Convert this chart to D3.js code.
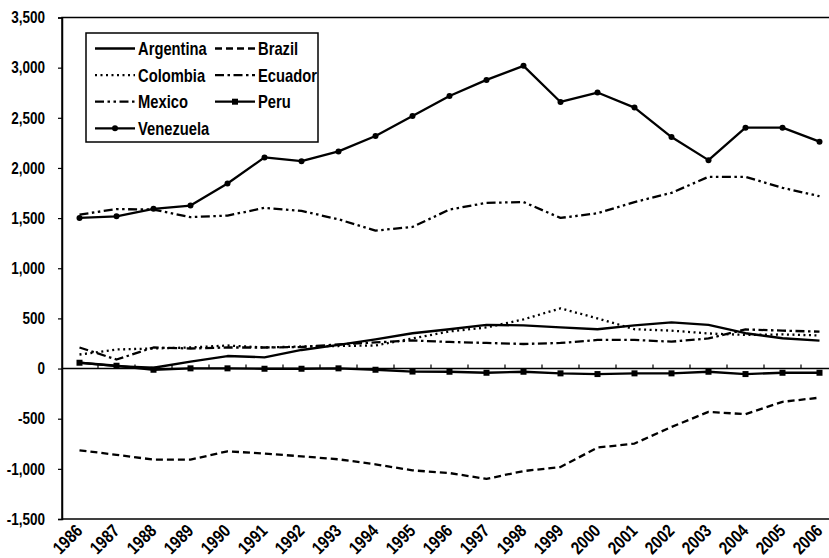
<!DOCTYPE html>
<html>
<head>
<meta charset="utf-8">
<script src="https://cdn.jsdelivr.net/npm/d3@7"></script>
<style>
  html, body { margin: 0; padding: 0; background: #fff; }
  svg { display: block; }
  text { font-family: "Liberation Sans", Arial, sans-serif; font-weight: bold; fill: #000; }
</style>
</head>
<body>
<svg id="chart" width="829" height="558"></svg>
<script>
const years = ["1986","1987","1988","1989","1990","1991","1992","1993","1994","1995","1996","1997","1998","1999","2000","2001","2002","2003","2004","2005","2006"];
const yTicks = [-1500,-1000,-500,0,500,1000,1500,2000,2500,3000,3500];

const argentina = [60,25,8,68,125,112,185,235,292,352,392,435,430,410,392,430,460,435,352,302,278];
const brazil    = [-815,-860,-908,-908,-825,-848,-875,-905,-955,-1015,-1042,-1100,-1022,-982,-788,-748,-582,-432,-455,-332,-290];
const colombia  = [140,190,200,210,230,210,220,225,230,300,370,410,490,600,500,392,378,350,335,340,330];
const ecuador   = [210,90,210,200,210,210,215,240,260,280,265,255,245,255,285,285,268,300,390,378,368];
const mexico    = [1535,1590,1585,1510,1525,1602,1572,1488,1375,1412,1585,1652,1660,1502,1548,1660,1752,1912,1912,1802,1718];
const peru      = [58,28,-12,2,2,-2,-2,2,-12,-30,-32,-42,-32,-48,-55,-48,-48,-32,-55,-42,-42];
const venezuela = [1502,1518,1592,1625,1845,2105,2068,2165,2318,2518,2718,2878,3018,2658,2752,2602,2308,2078,2402,2402,2262];

const series = [
  {name:"Argentina", values:argentina, dash:null, marker:null},
  {name:"Brazil",    values:brazil,    dash:"7,4", marker:null},
  {name:"Colombia",  values:colombia,  dash:"2,3.5", marker:null},
  {name:"Ecuador",   values:ecuador,   dash:"9,3.5,2.5,3.5", marker:null},
  {name:"Mexico",    values:mexico,    dash:"9,3.5,2.5,3.5,2.5,3.5", marker:null},
  {name:"Peru",      values:peru,      dash:null, marker:"square"},
  {name:"Venezuela", values:venezuela, dash:null, marker:"circle"}
];

const SX = 0.82; // horizontal condensing of the font
const svg = d3.select("#chart");
const pLeft = 62, pRight = 61 + 21*37, pTop = 17.5, pBottom = 519;

const x = d3.scaleBand().domain(years).range([61, pRight]).padding(0);
const y = d3.scaleLinear().domain([-1500, 3500]).range([pBottom, pTop]);
const cx = d => x(d) + x.bandwidth()/2;

// frame
svg.append("rect").attr("x", pLeft).attr("y", pTop).attr("width", pRight - pLeft).attr("height", pBottom - pTop)
  .attr("fill","none").attr("stroke","#000").attr("stroke-width",1.5);

// y axis
const yAxis = d3.axisLeft(y).tickValues(yTicks).tickSize(4).tickPadding(14).tickFormat(d3.format(","));
const ya = svg.append("g").attr("transform",`translate(${pLeft},0)`).call(yAxis);
ya.attr("font-family", null).attr("font-size", null);
ya.select(".domain").attr("stroke","#000").attr("stroke-width",1.5);
ya.selectAll(".tick line").attr("stroke","#000").attr("stroke-width",1.2);
ya.selectAll(".tick text").style("font-size","16.5px").attr("fill","#000")
  .attr("x", -17 / SX).attr("transform", `scale(${SX},1)`)
  .text(d => d3.format(",")(d).replace("\u2212","-"));

// zero line with ticks at category boundaries
const zeroG = svg.append("g").attr("transform",`translate(0,${y(0)})`);
zeroG.append("line").attr("x1",pLeft).attr("x2",pRight).attr("stroke","#000").attr("stroke-width",1.5);
zeroG.selectAll("line.tk").data(years.slice(1)).enter().append("line").attr("class","tk")
  .attr("x1", d => x(d)).attr("x2", d => x(d)).attr("y1",0).attr("y2",-4)
  .attr("stroke","#000").attr("stroke-width",1.2);

// x labels
svg.append("g").selectAll("text").data(years).enter().append("text")
  .attr("transform", d => `translate(${cx(d)+4},${pBottom+13}) rotate(-45) scale(${SX},1)`)
  .attr("text-anchor","end")
  .style("font-size","18px").text(d => d);

// lines
const line = d3.line().x((d,i) => cx(years[i])).y(d => y(d));
series.forEach(s => {
  svg.append("path").datum(s.values).attr("d", line)
    .attr("fill","none").attr("stroke","#000").attr("stroke-width",2.3)
    .attr("stroke-dasharray", s.dash).attr("stroke-linejoin","round");
  if (s.marker === "square") {
    svg.append("g").selectAll("rect").data(s.values).enter().append("rect")
      .attr("x",(d,i)=>cx(years[i])-3).attr("y",d=>y(d)-3).attr("width",6).attr("height",6).attr("fill","#000");
  } else if (s.marker === "circle") {
    svg.append("g").selectAll("circle").data(s.values).enter().append("circle")
      .attr("cx",(d,i)=>cx(years[i])).attr("cy",d=>y(d)).attr("r",3).attr("fill","#000");
  }
});

// legend
const lg = svg.append("g");
lg.append("rect").attr("x",86).attr("y",33).attr("width",232).attr("height",109)
  .attr("fill","#fff").attr("stroke","#000").attr("stroke-width",1.5);
const legendPos = {
  "Argentina":[0,0], "Brazil":[1,0], "Colombia":[0,1], "Ecuador":[1,1],
  "Mexico":[0,2], "Peru":[1,2], "Venezuela":[0,3]
};
const colX = [95, 215], rowY0 = 48.5, rowH = 26.6, sampleW = 40;
series.forEach(s => {
  const [c, r] = legendPos[s.name];
  const lx = colX[c], ly = rowY0 + r*rowH;
  lg.append("line").attr("x1",lx).attr("x2",lx+sampleW).attr("y1",ly).attr("y2",ly)
    .attr("stroke","#000").attr("stroke-width",2.3).attr("stroke-dasharray", s.dash);
  if (s.marker === "square") lg.append("rect").attr("x",lx+sampleW/2-3).attr("y",ly-3).attr("width",6).attr("height",6).attr("fill","#000");
  if (s.marker === "circle") lg.append("circle").attr("cx",lx+sampleW/2).attr("cy",ly).attr("r",3).attr("fill","#000");
  lg.append("text").attr("transform", `translate(${lx+sampleW+3},${ly}) scale(${SX},1)`).attr("dy","0.36em")
    .style("font-size","18px").text(s.name);
});
</script>
</body>
</html>
